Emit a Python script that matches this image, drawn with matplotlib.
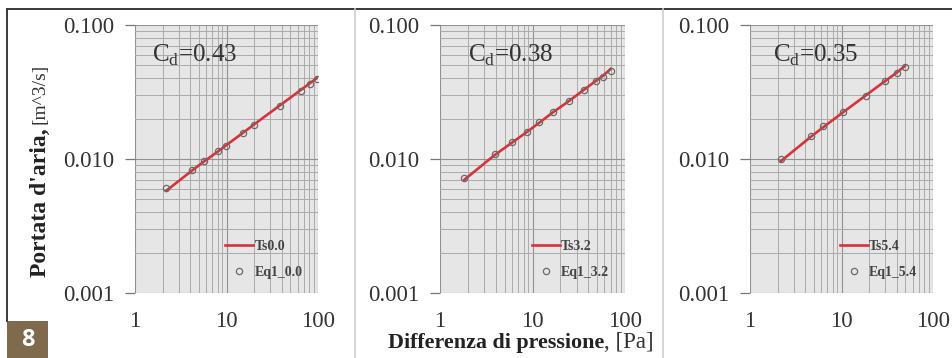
import matplotlib
matplotlib.use("Agg")
import matplotlib.pyplot as plt
from matplotlib.lines import Line2D
from matplotlib.patches import Rectangle
from matplotlib.ticker import LogLocator, NullFormatter

# dati
dp_00 = [2.2, 4.2, 5.7, 8.1, 9.8, 15, 20, 38, 65, 81, 97]
eq_00 = [0.0061, 0.0083, 0.0097, 0.0114, 0.0126, 0.0156, 0.018, 0.0249, 0.0324, 0.0361, 0.0394]
ts_00 = [0.0058, 0.0082, 0.0096, 0.0114, 0.0126, 0.0156, 0.0181, 0.0250, 0.0328, 0.0366, 0.0402]

dp_32 = [1.83, 3.9, 5.96, 8.8, 11.9, 16.5, 25, 36.3, 48.5, 58.3, 70]
eq_32 = [0.0072, 0.0109, 0.0133, 0.016, 0.019, 0.0226, 0.0273, 0.0328, 0.0383, 0.0412, 0.0454]
ts_32 = [0.0070, 0.0107, 0.0132, 0.0160, 0.0187, 0.0222, 0.0272, 0.0330, 0.0383, 0.0420, 0.0470]

dp_54 = [2.16, 4.6, 6.2, 10.3, 18.4, 29.7, 40.5, 49.1]
eq_54 = [0.00997, 0.0149, 0.0175, 0.0223, 0.0296, 0.0383, 0.0442, 0.0489]
ts_54 = [0.0096, 0.0146, 0.0171, 0.0222, 0.0298, 0.0380, 0.0443, 0.0494]

cd_values = ["0.43", "0.38", "0.35"]
ts_names = ["Ts0.0", "Ts3.2", "Ts5.4"]
eq_names = ["Eq1_0.0", "Eq1_3.2", "Eq1_5.4"]
x_ticks = [1, 10, 100]
x_labels = ["1", "10", "100"]
y_ticks = [0.001, 0.01, 0.1]
y_labels = ["0.001", "0.010", "0.100"]

plt.rcParams["font.family"] = ["Liberation Serif", "DejaVu Serif"]
plt.rcParams["mathtext.fontset"] = "custom"
plt.rcParams["mathtext.rm"] = "Liberation Serif"

W, H = 952, 358
fig = plt.figure(figsize=(W / 100, H / 100), dpi=100)

panels = [
    (135, 183, dp_00, eq_00, ts_00, 0.093),
    (440, 185, dp_32, eq_32, ts_32, 0.15),
    (750, 183, dp_54, eq_54, ts_54, 0.126),
]

for i, (left, width, dp, eq, ts, cx) in enumerate(panels):
    ax = fig.add_axes([left / W, 1 - 293 / H, width / W, 268 / H])
    ax.set_facecolor("#e6e6e6")
    ax.set_xscale("log")
    ax.set_yscale("log")
    ax.set_xlim(1, 100)
    ax.set_ylim(0.001, 0.1)

    ax.plot(dp, ts, color="#d8323a", lw=1.9, label=ts_names[i], zorder=3)
    ax.plot(dp, eq, ls="none", marker="o", ms=4.5, mfc="none", mec="#6a6a6a",
            mew=0.9, label=eq_names[i], zorder=4)

    ax.xaxis.set_minor_locator(LogLocator(base=10, subs=range(2, 10)))
    ax.yaxis.set_minor_locator(LogLocator(base=10, subs=range(2, 10)))
    ax.xaxis.set_minor_formatter(NullFormatter())
    ax.yaxis.set_minor_formatter(NullFormatter())
    ax.set_xticks(x_ticks, labels=x_labels)
    ax.set_yticks(y_ticks, labels=y_labels)
    ax.grid(True, which="major", color="#929292", lw=0.8)
    ax.grid(True, which="minor", color="#ababab", lw=0.7)
    ax.set_axisbelow(True)
    for s in ax.spines.values():
        s.set_visible(False)
    ax.tick_params(axis="x", which="both", length=0, pad=13, labelsize=16.5,
                   labelcolor="#333333")
    ax.tick_params(axis="y", which="major", length=7, width=0.9, color="#777777",
                   pad=8, labelsize=16.5, labelcolor="#333333")
    ax.tick_params(axis="y", which="minor", length=0)

    ax.text(cx, 0.862, "C$_{\\mathregular{d}}$=" + cd_values[i],
            transform=ax.transAxes, fontsize=18, color="#333333", va="baseline")

    leg = ax.legend(loc="lower right", bbox_to_anchor=(0.96, 0.02), frameon=False,
                    prop={"family": "Liberation Serif", "weight": "bold", "size": 10},
                    handlelength=2.0, handletextpad=0.1, labelspacing=0.95,
                    borderaxespad=0.2)
    for t in leg.get_texts():
        t.set_color("#444444")

# cornice e separatori
fig.add_artist(Line2D([7 / W, 1], [1 - 9 / H, 1 - 9 / H], color="#3a3a3a", lw=1.4))
fig.add_artist(Line2D([7 / W, 7 / W], [1 - 9 / H, 1 - 321 / H], color="#3a3a3a", lw=1.4))
for xs in [355, 663]:
    fig.add_artist(Line2D([xs / W, xs / W], [1 - 9 / H, 0], color="#cfcfcf", lw=1.2))

# riquadro numero figura
fig.add_artist(Rectangle((7 / W, 0), 41 / W, 37 / H, transform=fig.transFigure,
                         color="#806a4e", lw=0))
fig.text(27.5 / W, 18 / H, "8", color="white", fontsize=17, fontweight="bold",
         family="Open Sans", ha="center", va="center")

# etichette assi
ylab = fig.text(40 / W, 1 - 277 / H, "Portata d'aria,", rotation=90, ha="center",
                va="bottom", fontsize=17, fontweight="bold", color="#222222")
xlab = fig.text(388 / W, 10 / H, "Differenza di pressione", ha="left",
                va="baseline", fontsize=15.8, fontweight="bold", color="#222222")
fig.canvas.draw()
r = fig.canvas.get_renderer()
yb = ylab.get_window_extent(r)
xb = xlab.get_window_extent(r)
fig.text(40 / W, (yb.y1 + 4) / H, "[m^3/s]", rotation=90, ha="center", va="bottom",
         fontsize=14, color="#333333")
fig.text((xb.x1) / W, 10 / H, ", [Pa]", ha="left", va="baseline", fontsize=16.5,
         color="#333333")

fig.savefig("out.png", dpi=100)
